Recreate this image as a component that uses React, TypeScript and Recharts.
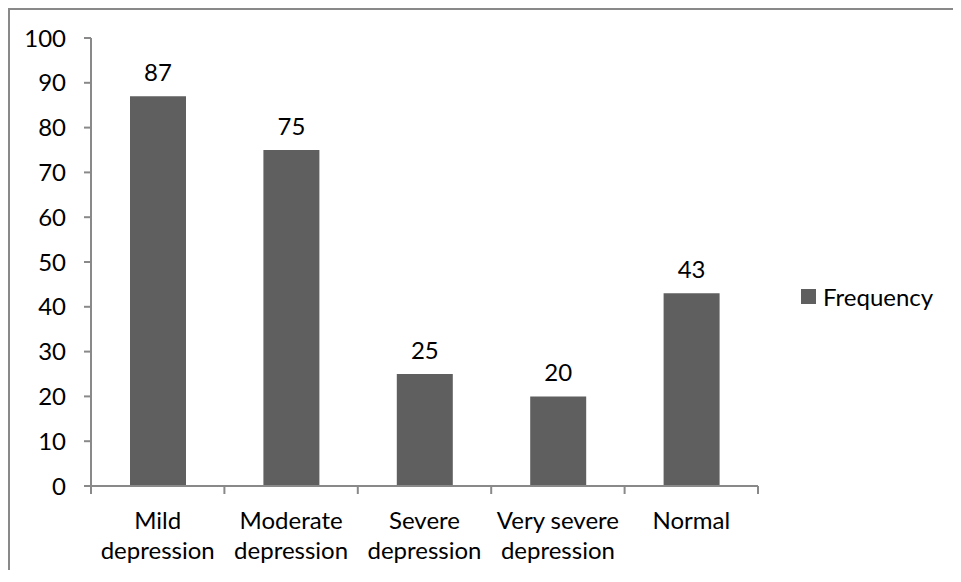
import { BarChart, Bar, XAxis, YAxis, LabelList } from "recharts"

// categories and counts
const categories = ["Mild depression", "Moderate depression", "Severe depression", "Very severe depression", "Normal"]
const frequency = [87, 75, 25, 20, 43]
const yTicks = [0, 10, 20, 30, 40, 50, 60, 70, 80, 90, 100]
const boundaryTicks = [0, 1, 2, 3, 4, 5]
const seriesName = "Frequency"

const data = categories.map((name, i) => ({ name, value: frequency[i], slot: i }))

const FONT = "Lato, 'Open Sans', sans-serif"
const AXIS = "#898989"
const BAR = "#5f5f5f"

// two-line category label, broken at the last space
const CategoryTick = ({ x, y, payload }: any) => {
  const label: string = payload.value
  const cut = label.lastIndexOf(" ")
  const lines = cut > 0 ? [label.slice(0, cut), label.slice(cut + 1)] : [label]
  return (
    <text x={x} y={y} textAnchor="middle" fill="#000" fontSize={24} fontFamily={FONT}>
      {lines.map((line, i) => (
        <tspan key={i} x={x} dy={i === 0 ? 34 : 30}>
          {line}
        </tspan>
      ))}
    </text>
  )
}

export default function App() {
  return (
    <div
      style={{
        position: "relative",
        width: 943,
        height: 560,
        borderTop: `2px solid ${AXIS}`,
        borderLeft: `2px solid ${AXIS}`,
      }}
    >
      <BarChart
        width={943}
        height={560}
        data={data}
        margin={{ top: 28, right: 195, left: 8, bottom: 82 }}
      >
        <XAxis
          xAxisId="cat"
          dataKey="name"
          interval={0}
          axisLine={false}
          tickLine={false}
          height={1}
          tick={<CategoryTick />}
        />
        {/* boundary ticks between categories, as in the Excel original */}
        <XAxis
          xAxisId="bounds"
          dataKey="slot"
          type="number"
          scale="linear"
          domain={[0, categories.length]}
          allowDataOverflow={true}
          ticks={boundaryTicks}
          interval={0}
          padding={{ left: 0, right: 0 }}
          tickFormatter={() => ""}
          height={1}
          tickSize={8}
          axisLine={{ stroke: AXIS, strokeWidth: 2 }}
          tickLine={{ stroke: AXIS, strokeWidth: 2 }}
        />
        <YAxis
          width={73}
          domain={[0, 100]}
          ticks={yTicks}
          interval={0}
          tickSize={7}
          tickMargin={18}
          axisLine={{ stroke: AXIS, strokeWidth: 2 }}
          tickLine={{ stroke: AXIS, strokeWidth: 2 }}
          tick={{ fill: "#000", fontSize: 24, fontFamily: FONT }}
        />
        <Bar xAxisId="cat" dataKey="value" name={seriesName} fill={BAR} barSize={56} isAnimationActive={false}>
          <LabelList dataKey="value" position="top" offset={15} fill="#000" fontSize={24} fontFamily={FONT} />
        </Bar>
      </BarChart>
      <div
        style={{
          position: "absolute",
          left: 791,
          top: 272,
          display: "flex",
          alignItems: "center",
          fontFamily: FONT,
          fontSize: 24,
          color: "#000",
        }}
      >
        <span style={{ width: 15, height: 15, background: BAR, display: "inline-block", marginRight: 7 }} />
        <span>{seriesName}</span>
      </div>
    </div>
  )
}
